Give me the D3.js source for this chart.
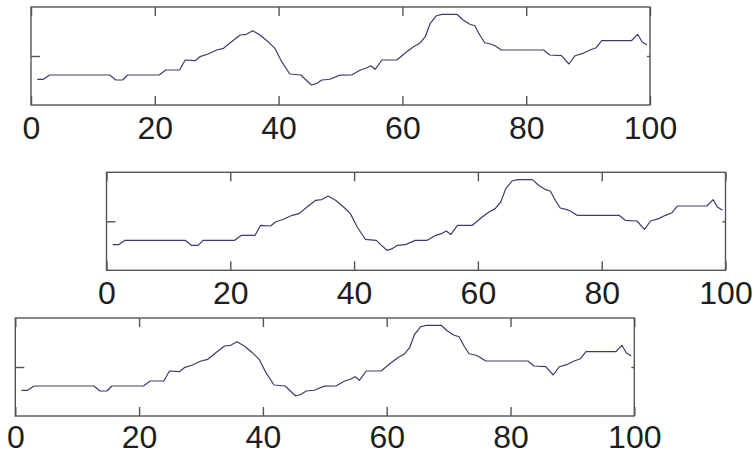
<!DOCTYPE html>
<html>
<head>
<meta charset="utf-8">
<script src="https://cdn.jsdelivr.net/npm/d3@7.9.0/dist/d3.min.js"></script>
<style>
  html, body { margin: 0; padding: 0; background: #fff; }
  svg { display: block; }
</style>
</head>
<body>
<div id="chart"></div>
<script>
// sample positions and signal values (same trace in all three panels)
const xs = [1, 2, 3, 12.7, 13.7, 14.8, 15.6, 20.7, 21.8, 24, 24.9, 26.5, 27.3, 28.6, 30, 31.1,
  32.4, 33.8, 34.8, 35.8, 37, 38.3, 39.4, 40.5, 41.8, 43.6, 44.3, 45.3, 46.2, 47, 48.3, 49.9,
  51.8, 53.2, 54.2, 54.9, 55.6, 56.7, 59.1, 60.7, 61.8, 62.8, 63.7, 64.5, 65.5, 66.4, 68.8,
  69.8, 70.9, 71.7, 72.5, 73.3, 74.4, 75, 76, 82.8, 83.8, 85.7, 86.9, 87.9, 89.2, 90.3, 91.3,
  92.2, 97, 98, 98.7, 99.5];
const ys = [-0.475, -0.475, -0.388, -0.388, -0.49, -0.49, -0.388, -0.388, -0.286, -0.286,
  -0.082, -0.096, -0.014, 0.041, 0.122, 0.157, 0.292, 0.429, 0.443, 0.516, 0.429, 0.292, 0.157,
  -0.116, -0.367, -0.388, -0.475, -0.592, -0.557, -0.49, -0.475, -0.39, -0.388, -0.286, -0.245,
  -0.198, -0.271, -0.082, -0.082, 0.088, 0.19, 0.259, 0.394, 0.667, 0.822, 0.851, 0.851, 0.735,
  0.647, 0.618, 0.429, 0.271, 0.239, 0.204, 0.122, 0.122, 0.02, 0.006, -0.163, 0.006, 0.055,
  0.122, 0.169, 0.312, 0.312, 0.443, 0.292, 0.224];
const xTicks = [0, 20, 40, 60, 80, 100];
const yTicks = [0];

const width = 755, height = 455;
const boxW = 619, boxH = 98;
// top-left corner of each panel's box, and gap between axis and labels
const panels = [
  {left: 31,    top: 7,     pad: 11},
  {left: 106.5, top: 172.3, pad: 11},
  {left: 15.3,  top: 318,   pad: 9}
];

const data = xs.map((x, i) => ({x, y: ys[i]}));

const svg = d3.select('#chart')
  .append('svg')
  .attr('width', width)
  .attr('height', height)
  .attr('viewBox', [0, 0, width, height]);

const x = d3.scaleLinear().domain([0, 100]).range([0, boxW]);
const y = d3.scaleLinear().domain([-1, 1]).range([boxH, 0]);

const line = d3.line().x(d => x(d.x)).y(d => y(d.y));

panels.forEach(p => {
  const g = svg.append('g').attr('transform', `translate(${p.left},${p.top})`);

  // trace
  g.append('path')
    .datum(data)
    .attr('fill', 'none')
    .attr('stroke', '#3c3c6c')
    .attr('stroke-width', 1.2)
    .attr('stroke-linejoin', 'round')
    .attr('d', line);

  // axes (ticks inward, like matlab)
  const bottom = g.append('g')
    .attr('transform', `translate(0,${boxH})`)
    .call(d3.axisBottom(x).tickValues(xTicks).tickSize(-9).tickPadding(p.pad));
  bottom.selectAll('text')
    .attr('fill', '#1e1e1e')
    .style('font-family', '"Liberation Sans", Arial, sans-serif')
    .style('font-size', '32px');

  g.append('g')
    .call(d3.axisTop(x).tickValues(xTicks).tickSize(-9).tickFormat(''));
  g.append('g')
    .call(d3.axisLeft(y).tickValues(yTicks).tickSize(-9).tickFormat(''));
  g.append('g')
    .attr('transform', `translate(${boxW},0)`)
    .call(d3.axisRight(y).tickValues(yTicks).tickSize(-3).tickFormat(''));

  g.selectAll('.domain').remove();
  g.selectAll('.tick line')
    .attr('stroke', '#555')
    .attr('stroke-width', 1.4);

  // frame
  g.append('rect')
    .attr('width', boxW)
    .attr('height', boxH)
    .attr('fill', 'none')
    .attr('stroke', '#555')
    .attr('stroke-width', 1.4);
});
</script>
</body>
</html>
